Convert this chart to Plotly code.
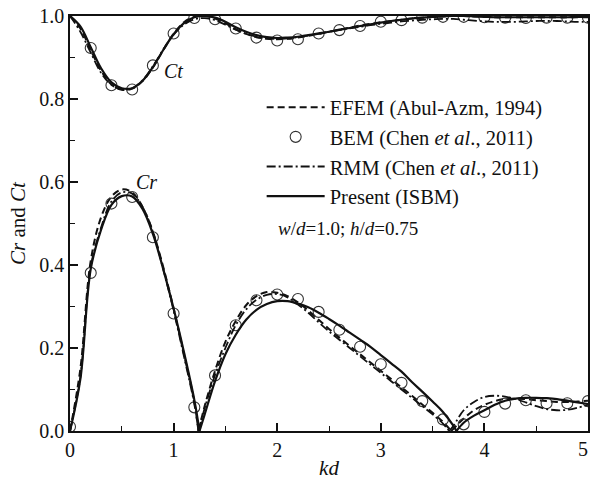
import plotly.graph_objects as go

# ---------------- data ----------------
kd_grid = [round(0.1 * i, 1) for i in range(51)]

# Transmission coefficient Ct (curves sampled every 0.1)
ct_present = [1.0, 0.975, 0.925, 0.874, 0.840, 0.826, 0.826, 0.844, 0.877, 0.918,
              0.956, 0.983, 0.997, 1.000, 0.996, 0.986, 0.973, 0.962, 0.954, 0.949,
              0.947, 0.948, 0.950, 0.954, 0.958, 0.962, 0.967, 0.971, 0.976, 0.980,
              0.984, 0.988, 0.991, 0.994, 0.996, 0.998, 0.999, 1.000, 1.000, 0.999,
              0.998, 0.997, 0.997, 0.997, 0.997, 0.997, 0.997, 0.997, 0.997, 0.998, 0.998]
ct_efem = [1.0, 0.970, 0.918, 0.868, 0.835, 0.822, 0.825, 0.843, 0.876, 0.918,
           0.957, 0.985, 0.998, 1.000, 0.994, 0.982, 0.968, 0.957, 0.949, 0.945,
           0.944, 0.945, 0.948, 0.952, 0.957, 0.962, 0.967, 0.972, 0.977, 0.981,
           0.985, 0.988, 0.991, 0.994, 0.996, 0.998, 0.999, 1.000, 1.000, 0.999,
           0.998, 0.997, 0.997, 0.997, 0.997, 0.997, 0.997, 0.997, 0.997, 0.997, 0.997]
ct_rmm = [1.0, 0.962, 0.912, 0.863, 0.834, 0.823, 0.826, 0.845, 0.879, 0.919,
          0.955, 0.979, 0.992, 0.995, 0.990, 0.979, 0.967, 0.957, 0.950, 0.946,
          0.945, 0.946, 0.949, 0.953, 0.957, 0.962, 0.966, 0.970, 0.974, 0.978,
          0.981, 0.984, 0.987, 0.989, 0.991, 0.992, 0.993, 0.993, 0.991, 0.989,
          0.987, 0.986, 0.986, 0.986, 0.987, 0.988, 0.988, 0.988, 0.987, 0.986, 0.986]

# Reflection coefficient Cr (curves, zero crossings included)
kd_cr_present = [0.0, 0.1, 0.2, 0.3, 0.4, 0.5, 0.6, 0.7, 0.8, 0.9, 1.0, 1.1, 1.2, 1.25,
                 1.3, 1.4, 1.5, 1.6, 1.7, 1.8, 1.9, 2.0, 2.1, 2.2, 2.3, 2.4, 2.5, 2.6,
                 2.7, 2.8, 2.9, 3.0, 3.1, 3.2, 3.3, 3.4, 3.5, 3.6, 3.7, 3.73,
                 3.8, 3.9, 4.0, 4.1, 4.2, 4.3, 4.4, 4.5, 4.6, 4.7, 4.8, 4.9, 5.0]
cr_present = [0.0, 0.125, 0.39, 0.485, 0.545, 0.566, 0.565, 0.535, 0.475, 0.39, 0.295, 0.19, 0.075, 0.0,
              0.04, 0.12, 0.185, 0.232, 0.268, 0.292, 0.306, 0.313, 0.313, 0.307, 0.298, 0.285, 0.270, 0.254,
              0.237, 0.220, 0.203, 0.183, 0.163, 0.143, 0.118, 0.095, 0.071, 0.046, 0.013, 0.0,
              0.02, 0.037, 0.050, 0.063, 0.073, 0.078, 0.080, 0.080, 0.079, 0.077, 0.073, 0.069, 0.065]

kd_cr_efem = [0.0, 0.1, 0.2, 0.3, 0.4, 0.5, 0.6, 0.7, 0.8, 0.9, 1.0, 1.1, 1.2, 1.24,
              1.3, 1.4, 1.5, 1.6, 1.7, 1.8, 1.9, 2.0, 2.1, 2.2, 2.3, 2.4, 2.5, 2.6,
              2.7, 2.8, 2.9, 3.0, 3.1, 3.2, 3.3, 3.4, 3.5, 3.6, 3.68,
              3.8, 3.9, 4.0, 4.1, 4.2, 4.3, 4.4, 4.5, 4.6, 4.7, 4.8, 4.9, 5.0]
cr_efem = [0.0, 0.15, 0.41, 0.515, 0.565, 0.582, 0.575, 0.54, 0.48, 0.395, 0.295, 0.185, 0.07, 0.0,
           0.06, 0.145, 0.215, 0.265, 0.303, 0.325, 0.335, 0.333, 0.325, 0.310, 0.290, 0.268, 0.246, 0.225,
           0.205, 0.185, 0.165, 0.145, 0.125, 0.105, 0.085, 0.064, 0.044, 0.022, 0.0,
           0.03, 0.05, 0.063, 0.072, 0.077, 0.078, 0.077, 0.074, 0.072, 0.070, 0.070, 0.071, 0.073]

kd_cr_rmm = [0.0, 0.1, 0.2, 0.3, 0.4, 0.5, 0.6, 0.7, 0.8, 0.9, 1.0, 1.1, 1.2, 1.24,
             1.3, 1.4, 1.5, 1.6, 1.7, 1.8, 1.9, 2.0, 2.1, 2.2, 2.3, 2.4, 2.5, 2.6,
             2.7, 2.8, 2.9, 3.0, 3.1, 3.2, 3.3, 3.4, 3.5, 3.6, 3.66,
             3.7, 3.8, 3.9, 4.0, 4.1, 4.2, 4.3, 4.4, 4.5, 4.6, 4.7, 4.8, 4.9, 5.0]
cr_rmm = [0.0, 0.13, 0.395, 0.49, 0.553, 0.575, 0.572, 0.54, 0.48, 0.39, 0.29, 0.18, 0.065, 0.0,
          0.055, 0.135, 0.2, 0.255, 0.293, 0.316, 0.328, 0.330, 0.322, 0.305, 0.285, 0.262, 0.240, 0.220,
          0.200, 0.180, 0.160, 0.140, 0.120, 0.100, 0.080, 0.060, 0.040, 0.018, 0.0,
          0.012, 0.05, 0.07, 0.082, 0.085, 0.083, 0.077, 0.069, 0.060, 0.053, 0.050, 0.051, 0.056, 0.063]

# BEM (circles)
kd_bem_ct = [0.2, 0.4, 0.6, 0.8, 1.0, 1.2, 1.4, 1.6, 1.8, 2.0, 2.2, 2.4, 2.6, 2.8, 3.0,
             3.2, 3.4, 3.6, 3.8, 4.0, 4.2, 4.4, 4.6, 4.8, 5.0]
ct_bem = [0.923, 0.833, 0.823, 0.881, 0.958, 0.995, 0.992, 0.970, 0.948, 0.941, 0.944, 0.958,
          0.966, 0.976, 0.986, 0.990, 0.996, 0.998, 0.998, 0.997, 0.996, 0.995, 0.996, 0.996, 0.996]
kd_bem_cr = [0.0, 0.2, 0.4, 0.6, 0.8, 1.0, 1.2, 1.4, 1.6, 1.8, 2.0, 2.2, 2.4, 2.6, 2.8, 3.0,
             3.2, 3.4, 3.6, 3.8, 4.0, 4.2, 4.4, 4.6, 4.8, 5.0]
cr_bem = [0.01, 0.381, 0.548, 0.564, 0.467, 0.283, 0.057, 0.134, 0.255, 0.315, 0.329, 0.318, 0.287,
          0.244, 0.203, 0.161, 0.116, 0.072, 0.028, 0.016, 0.046, 0.066, 0.074, 0.067, 0.067, 0.072]

x_ticks = [0, 1, 2, 3, 4, 5]
x_tick_labels = ["0", "1", "2", "3", "4", ""]   # the last label is placed as an edge-aligned annotation
x_last_label = "5"
y_ticks = [0.0, 0.2, 0.4, 0.6, 0.8, 1.0]

FONT = "Liberation Serif"
INK = "#111111"


def split_at_cusps(xs, ys):
    """Break the line at interior zero points so the spline keeps the sharp V."""
    ox, oy = [], []
    for i, (x, y) in enumerate(zip(xs, ys)):
        ox.append(x)
        oy.append(y)
        if y == 0 and 0 < i < len(xs) - 1:
            ox += [None, x]
            oy += [None, y]
    return ox, oy


fig = go.Figure()

styles = {
    "efem": dict(color=INK, width=2, dash="7px,4px"),
    "rmm": dict(color=INK, width=1.8, dash="9px,3px,2px,3px"),
    "present": dict(color=INK, width=2.2),
}

# EFEM
fig.add_trace(go.Scatter(x=kd_grid, y=ct_efem, mode="lines", line=styles["efem"], line_shape="spline",
                         name="EFEM (Abul-Azm, 1994)", legendgroup="a"))
ex, ey = split_at_cusps(kd_cr_efem, cr_efem)
fig.add_trace(go.Scatter(x=ex, y=ey, mode="lines", line=styles["efem"], line_shape="spline",
                         showlegend=False, legendgroup="a"))
# BEM
fig.add_trace(go.Scatter(x=kd_bem_ct, y=ct_bem, mode="markers",
                         marker=dict(symbol="circle-open", size=11, color="#333333", line=dict(width=1.1)),
                         name="BEM (Chen <i>et al</i>., 2011)", legendgroup="b"))
fig.add_trace(go.Scatter(x=kd_bem_cr, y=cr_bem, mode="markers",
                         marker=dict(symbol="circle-open", size=11, color="#333333", line=dict(width=1.1)),
                         showlegend=False, legendgroup="b"))
# RMM
fig.add_trace(go.Scatter(x=kd_grid, y=ct_rmm, mode="lines", line=styles["rmm"], line_shape="spline",
                         name="RMM (Chen <i>et al</i>., 2011)", legendgroup="c"))
rx, ry = split_at_cusps(kd_cr_rmm, cr_rmm)
fig.add_trace(go.Scatter(x=rx, y=ry, mode="lines", line=styles["rmm"], line_shape="spline",
                         showlegend=False, legendgroup="c"))
# Present
fig.add_trace(go.Scatter(x=kd_grid, y=ct_present, mode="lines", line=styles["present"], line_shape="spline",
                         name="Present (ISBM)", legendgroup="d"))
px_, py_ = split_at_cusps(kd_cr_present, cr_present)
fig.add_trace(go.Scatter(x=px_, y=py_, mode="lines", line=styles["present"], line_shape="spline",
                         showlegend=False, legendgroup="d"))

fig.add_annotation(x=0.89, y=0.867, text="<i>Ct</i>", showarrow=False, xanchor="left",
                   font=dict(family=FONT, size=20, color=INK))
fig.add_annotation(x=0.62, y=0.60, text="<i>Cr</i>", showarrow=False, xanchor="left",
                   font=dict(family=FONT, size=20, color=INK))
fig.add_annotation(x=1.99, y=0.488, text="<i>w</i>/<i>d</i>=1.0; <i>h</i>/<i>d</i>=0.75",
                   showarrow=False, xanchor="left", font=dict(family=FONT, size=19, color=INK))
# last x tick label, kept fully inside the page
fig.add_annotation(x=1.0035, y=0, xref="paper", yref="paper", text=x_last_label, showarrow=False,
                   xanchor="right", yanchor="top", yshift=-5, font=dict(family=FONT, size=20, color=INK))

axis_common = dict(showgrid=False, zeroline=False, showline=True, linecolor=INK, linewidth=1.6,
                   mirror=True, ticks="inside", ticklen=8, tickwidth=1.5, tickcolor=INK,
                   tickfont=dict(family=FONT, size=20, color=INK))

fig.update_xaxes(range=[0, 5], tickvals=x_ticks, ticktext=x_tick_labels,
                 minor=dict(dtick=0.5, ticks="inside", ticklen=5, tickwidth=1.3, tickcolor=INK, showgrid=False),
                 title=dict(text="<i>kd</i>", font=dict(family=FONT, size=21, color=INK), standoff=4),
                 **axis_common)
fig.update_yaxes(range=[0, 1], tickvals=y_ticks, ticktext=[f"{v:.1f}" for v in y_ticks],
                 minor=dict(dtick=0.1, ticks="inside", ticklen=5, tickwidth=1.3, tickcolor=INK, showgrid=False),
                 title=dict(text="<i>Cr</i> and <i>Ct</i>", font=dict(family=FONT, size=21, color=INK), standoff=8),
                 **axis_common)

fig.update_layout(
    width=590, height=480,
    margin=dict(l=70, r=2, t=16, b=49, autoexpand=False),
    plot_bgcolor="white", paper_bgcolor="white",
    font=dict(family=FONT, size=20, color=INK),
    legend=dict(x=0.37, y=0.828, xanchor="left", yanchor="top", bgcolor="rgba(0,0,0,0)",
                font=dict(family=FONT, size=20.5, color=INK), traceorder="grouped",
                tracegroupgap=0, itemwidth=58),
)

# remove the default page margin so the 590x480 figure fills the window exactly
fig.write_html("out.html", config={"displayModeBar": False},
               post_script="document.body.style.margin='0';document.body.style.overflow='hidden';")
